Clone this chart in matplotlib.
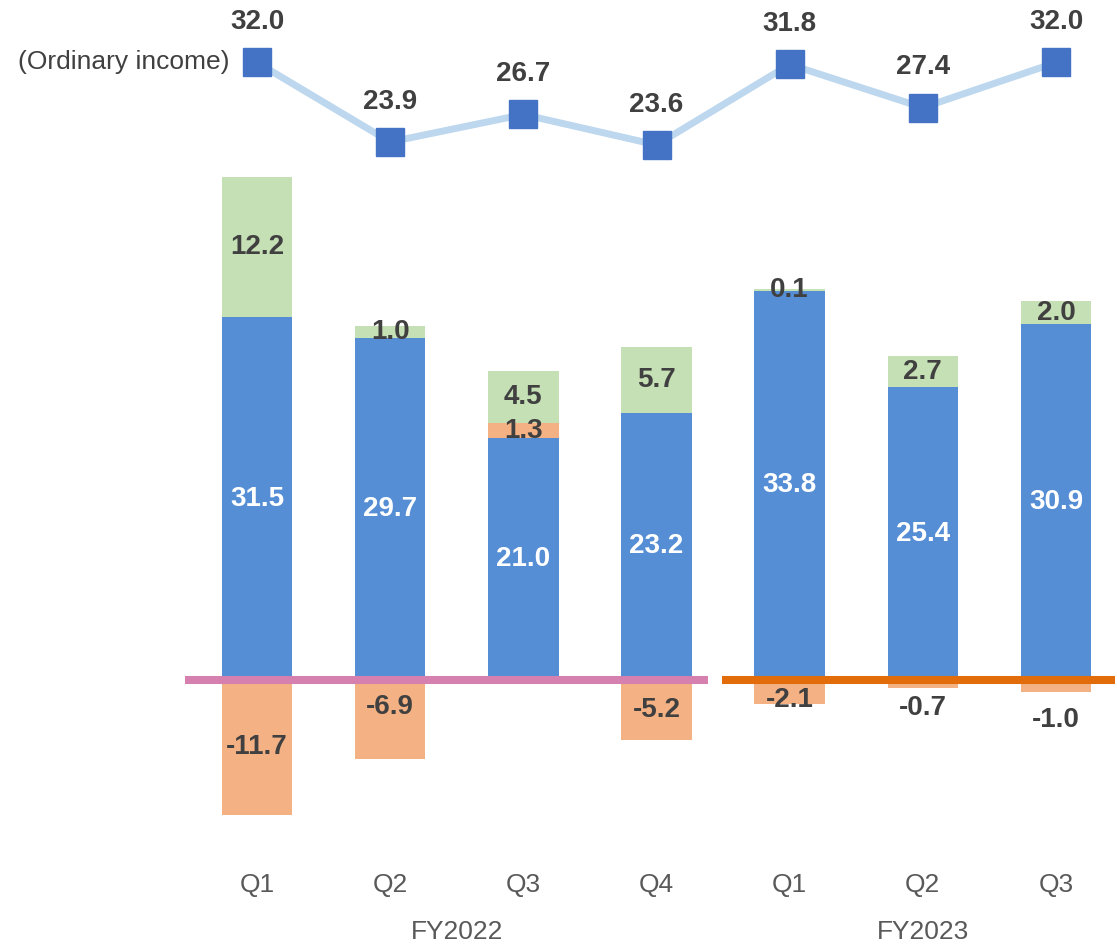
import numpy as np
import matplotlib
matplotlib.use("Agg")
import matplotlib.pyplot as plt
from matplotlib.transforms import blended_transform_factory

plt.rcParams['font.family'] = ['Liberation Sans', 'DejaVu Sans']

# quarterly data (billions of yen)
quarters = ["Q1", "Q2", "Q3", "Q4", "Q1", "Q2", "Q3"]
years = ["FY2022", "FY2023"]
year_centers = [1.5, 5.0]
base = [31.5, 29.7, 21.0, 23.2, 33.8, 25.4, 30.9]
adjust = [-11.7, -6.9, 1.3, -5.2, -2.1, -0.7, -1.0]
extra = [12.2, 1.0, 4.5, 5.7, 0.1, 2.7, 2.0]
ordinary = [32.0, 23.9, 26.7, 23.6, 31.8, 27.4, 32.0]

# vertical nudges (pixels) for the adjustment labels
adjust_nudge = [0, -13, 0, 0, 8, 24, 34]

BLUE = "#558ed5"
GREEN = "#c5e0b4"
ORANGE = "#f4b183"
TEXT = "#404040"

x = np.arange(len(quarters))
width = 0.53

fig = plt.figure(figsize=(11.17, 9.46), dpi=100)
ax = fig.add_axes([0, 0, 1, 1])
ax.set_xlim(-1.93, 6.458)
ax.set_ylim(-23.09, 59.03)
ax.axis("off")

base = np.array(base)
adjust = np.array(adjust)
extra = np.array(extra)

ax.bar(x, base, width, color=BLUE)
adj_bottom = np.where(adjust > 0, base, 0)
ax.bar(x, adjust, width, bottom=adj_bottom, color=ORANGE)
extra_bottom = base + np.clip(adjust, 0, None)
ax.bar(x, extra, width, bottom=extra_bottom, color=GREEN)

# zero lines for each fiscal year
ax.hlines(0, x[0] - 0.54, x[3] + 0.39, color="#d580ae", lw=5.8, capstyle="butt", zorder=3)
ax.hlines(0, x[4] - 0.51, x[6] + 0.44, color="#e36c0a", lw=5.8, capstyle="butt", zorder=3)

lab = dict(ha="center", va="center", fontsize=20, fontweight="bold")
for i in x:
    ax.text(i, base[i] / 2, f"{base[i]:.1f}", color="white", **lab)
    ax.text(i, extra_bottom[i] + extra[i] / 2, f"{extra[i]:.1f}", color=TEXT, zorder=4, **lab)
    ax.annotate(f"{adjust[i]:.1f}", (i, adj_bottom[i] + adjust[i] / 2),
                xytext=(0, -adjust_nudge[i] * 0.72), textcoords="offset points",
                color=TEXT, zorder=4, **lab)

# category labels below the chart
tr = blended_transform_factory(ax.transData, ax.transAxes)
for i, q in zip(x, quarters):
    ax.text(i, 0.0645, q, transform=tr, ha="center", va="center", fontsize=19, color="#595959")
for c, y in zip(year_centers, years):
    ax.text(c, 0.0148, y, transform=tr, ha="center", va="center", fontsize=19, color="#595959")

# ordinary income line on its own scale
ax2 = ax.twinx()
ax2.set_ylim(-58.06, 38.37)
ax2.axis("off")
ax2.plot(x, ordinary, color="#bdd7ee", lw=5, marker="s", markersize=20,
         markerfacecolor="#4472c4", markeredgecolor="#4472c4", zorder=3)
for i, v in zip(x, ordinary):
    ax2.annotate(f"{v:.1f}", (i, v), xytext=(0, 29), textcoords="offset points",
                 color=TEXT, **lab)
ax2.annotate("(Ordinary income)", (x[0], ordinary[0]), xytext=(-19.5, 0),
             textcoords="offset points", ha="right", va="center", fontsize=19, color=TEXT)

fig.savefig("out.png", dpi=100)
